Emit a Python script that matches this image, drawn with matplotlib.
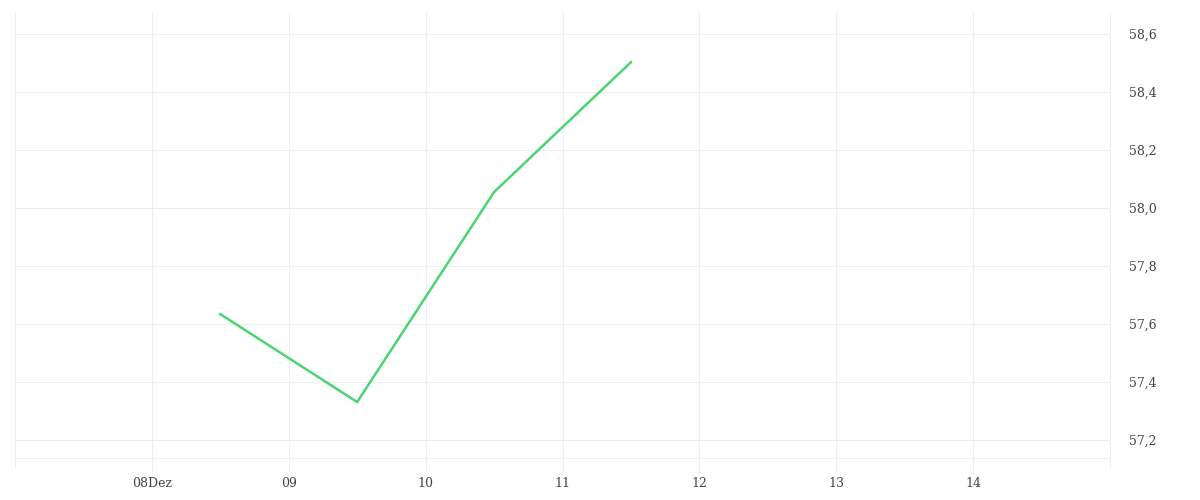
import matplotlib
matplotlib.use("Agg")
import matplotlib.pyplot as plt
import datetime as dt

# Data
dates = [dt.datetime(2023, 12, 8, 12), dt.datetime(2023, 12, 9, 12),
         dt.datetime(2023, 12, 10, 12), dt.datetime(2023, 12, 11, 12)]
values = [57.634, 57.331, 58.055, 58.503]
tick_dates = [dt.datetime(2023, 12, d) for d in range(8, 15)]
tick_labels = ["08Dez", "09", "10", "11", "12", "13", "14"]
ytick_values = [57.2, 57.4, 57.6, 57.8, 58.0, 58.2, 58.4, 58.6]
ytick_labels = ["57,2", "57,4", "57,6", "57,8", "58,0", "58,2", "58,4", "58,6"]

plt.rcParams['font.family'] = ['DejaVu Serif']

fig = plt.figure(figsize=(12, 5), dpi=100)
ax = fig.add_axes([15/1200, 42/500, (1110-15)/1200, (458-12)/500])

ax.plot(dates, values, color='#4cd471', linewidth=1.8, solid_joinstyle='miter')

ax.set_xlim(dt.datetime(2023, 12, 7), dt.datetime(2023, 12, 15))
ax.set_ylim(57.138, 58.676)

ax.set_xticks(tick_dates)
ax.set_xticklabels(tick_labels)
ax.set_yticks(ytick_values)
ax.set_yticklabels(ytick_labels)

ax.yaxis.tick_right()
ax.grid(True, color='#eeeeee', linewidth=0.8)
ax.set_axisbelow(True)

for s in ['top', 'right', 'left']:
    ax.spines[s].set_visible(False)
ax.spines['bottom'].set_color('#eeeeee')
ax.spines['bottom'].set_linewidth(0.8)

# edge vertical lines
for x in [dt.datetime(2023, 12, 7), dt.datetime(2023, 12, 15)]:
    ax.axvline(x, color='#eeeeee', linewidth=0.8, ymin=0, ymax=1, clip_on=False)
    ax.plot([x, x], [57.138, 57.138 - 10/290], color='#eeeeee', linewidth=0.8, clip_on=False)

ax.tick_params(axis='x', length=10, color='#eeeeee', width=0.8, pad=4, labelsize=9, labelcolor='#444444')
ax.tick_params(axis='y', length=0, pad=14, labelsize=9, labelcolor='#444444')

fig.savefig('out.png', dpi=100, facecolor='white')
